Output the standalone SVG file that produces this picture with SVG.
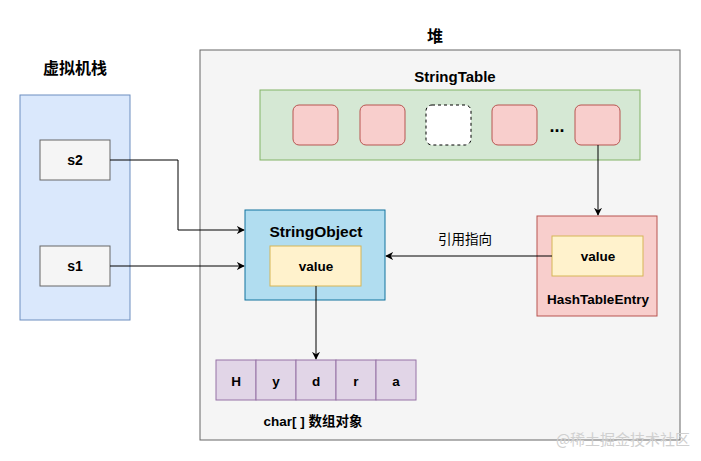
<svg xmlns="http://www.w3.org/2000/svg" width="701" height="461" viewBox="0 0 701 461">
<defs>
<style>
text{font-family:"Liberation Sans","Noto Sans CJK SC",sans-serif;font-size:14px;font-weight:bold;fill:#000;text-anchor:middle;dominant-baseline:central}
.t{font-size:16px}
.cjk{font-family:"Noto Sans CJK SC",sans-serif}
.s{font-size:13.5px}
.g{fill:#f5f5f5;stroke:#666}
.val{fill:#fff2cc;stroke:#d6b656}
.pink{fill:#f8cecc;stroke:#b85450}
.chr{fill:#e1d5e7;stroke:#9673a6}
.ln{fill:none;stroke:#000;stroke-width:1}
</style>
<marker id="ah" viewBox="0 0 10 10" refX="9" refY="5" markerWidth="8" markerHeight="8" orient="auto" markerUnits="userSpaceOnUse">
<path d="M0,0 L10,5 L0,10 L3,5 Z" fill="#000"/>
</marker>
</defs>
<rect width="701" height="461" fill="#fff"/>
<g id="heap">
<rect x="200" y="50" width="480" height="390" class="g"/>
<text x="435" y="35" class="t cjk">堆</text>
</g>
<g id="stack">
<text x="75" y="67" class="t cjk">虚拟机栈</text>
<rect x="20" y="95" width="110" height="225" fill="#dae8fc" stroke="#6c8ebf"/>
</g>
<g id="s2"><rect x="40" y="140" width="70" height="40" class="g"/><text x="75" y="160">s2</text></g>
<g id="s1"><rect x="40" y="246" width="70" height="40" class="g"/><text x="75" y="266">s1</text></g>
<g id="stringtable">
<text x="455" y="76" style="font-size:15px">StringTable</text>
<rect x="260" y="90" width="380" height="70" fill="#d5e8d4" stroke="#82b366"/>
<rect x="293" y="105" width="45" height="40" rx="6" class="pink"/>
<rect x="360" y="105" width="45" height="40" rx="6" class="pink"/>
<rect x="426" y="105" width="45" height="40" rx="6" fill="#fff" stroke="#000" stroke-dasharray="3,3"/>
<rect x="492" y="105" width="45" height="40" rx="6" class="pink"/>
<text x="557" y="126" style="font-size:18px">...</text>
<rect x="575" y="105" width="45" height="40" rx="6" class="pink"/>
</g>
<g id="stringobject">
<rect x="245" y="210" width="140" height="90" fill="#b1ddf0" stroke="#10739e"/>
<text x="316" y="231" style="font-size:15.5px">StringObject</text>
<rect x="270" y="246" width="91" height="40" class="val"/>
<text x="316" y="266" class="s">value</text>
</g>
<g id="hashtableentry">
<rect x="537" y="216" width="120" height="100" class="pink"/>
<rect x="552" y="236" width="91" height="40" class="val"/>
<text x="598" y="256" class="s">value</text>
<text x="598" y="299" class="s">HashTableEntry</text>
</g>
<g id="chararray">
<rect x="216" y="360" width="40" height="40" class="chr"/>
<rect x="256" y="360" width="40" height="40" class="chr"/>
<rect x="296" y="360" width="40" height="40" class="chr"/>
<rect x="336" y="360" width="40" height="40" class="chr"/>
<rect x="376" y="360" width="40" height="40" class="chr"/>
<text x="236" y="381" class="s">H</text>
<text x="276" y="381" class="s">y</text>
<text x="316" y="381" class="s">d</text>
<text x="356" y="381" class="s">r</text>
<text x="396" y="381" class="s">a</text>
<text x="313" y="421" class="s">char[ ] 数组对象</text>
</g>
<g id="connectors">
<path d="M110,160 H178 V230 H244" class="ln" marker-end="url(#ah)"/>
<path d="M110,266 H244" class="ln" marker-end="url(#ah)"/>
<path d="M598,145 V215" class="ln" marker-end="url(#ah)"/>
<path d="M552,256 H386" class="ln" marker-end="url(#ah)"/>
<path d="M316,286 V359" class="ln" marker-end="url(#ah)"/>
<text x="465" y="238" style="font-size:13.5px;font-weight:normal" class="cjk">引用指向</text>
</g>
<text x="623" y="438" style="font-size:15px;font-weight:normal;fill:#d0d0d0" class="cjk">@稀土掘金技术社区</text>
</svg>
